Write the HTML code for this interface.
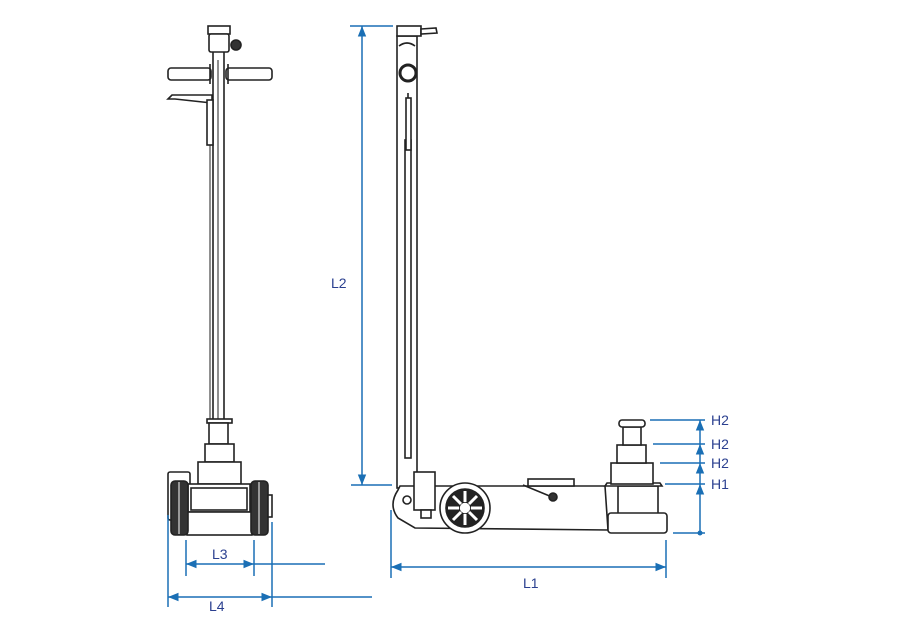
<!DOCTYPE html>
<html><head><meta charset="utf-8"><style>
html,body{margin:0;padding:0;background:#fff;width:900px;height:640px;overflow:hidden}
svg{display:block}
text{font-family:"Liberation Sans",sans-serif;font-size:14px;fill:#2a3f8f}
</style></head><body>
<svg width="900" height="640" viewBox="0 0 900 640" xmlns="http://www.w3.org/2000/svg">
<defs>
<marker id="a" viewBox="0 0 10 10" refX="10" refY="5" markerWidth="9" markerHeight="7" orient="auto-start-reverse"><path d="M0,1 L10,5 L0,9 z" fill="#1a6fb5"/></marker>
</defs>
<g fill="#fff" stroke="#222" stroke-width="1.6">
<!-- LEFT JACK -->
<rect x="213" y="50" width="11" height="372"/>
<line x1="218" y1="60" x2="218" y2="420" stroke-width="1"/>
<rect x="208" y="26" width="22" height="8"/>
<rect x="209" y="34" width="20" height="18" rx="2"/>
<circle cx="236" cy="45" r="5" fill="#333"/>
<rect x="168" y="68" width="43" height="12" rx="3"/>
<rect x="226" y="68" width="46" height="12" rx="3"/>
<line x1="210" y1="64" x2="210" y2="84"/><line x1="228" y1="64" x2="228" y2="84"/>
<path d="M168,99 L172,95 L212,95 L212,103 L175,99 Z"/>
<rect x="207" y="100" width="6" height="45"/>
<line x1="210" y1="145" x2="210" y2="420" stroke-width="1"/>
<rect x="207" y="419" width="25" height="4"/>
<rect x="209" y="423" width="19" height="21"/>
<rect x="205" y="444" width="29" height="18"/>
<rect x="198" y="462" width="43" height="22"/>
<rect x="168" y="472" width="22" height="48" rx="2"/>
<rect x="188" y="484" width="62" height="28"/>
<rect x="191" y="488" width="56" height="22"/>
<rect x="187" y="512" width="65" height="23"/>
<rect x="171" y="481" width="17" height="54" rx="4" fill="#333"/>
<rect x="251" y="481" width="17" height="54" rx="4" fill="#333"/>
<line x1="179" y1="482" x2="179" y2="534" stroke="#fff" stroke-width="1"/>
<line x1="259" y1="482" x2="259" y2="534" stroke="#fff" stroke-width="1"/>
<rect x="268" y="495" width="4" height="22"/>

<!-- RIGHT JACK -->
<rect x="397" y="36" width="20" height="452"/>
<rect x="405" y="140" width="6" height="318"/>
<rect x="397" y="26" width="24" height="10"/>
<path d="M421,29 L436,28 L437,33 L421,34 Z"/>
<path d="M399,46 Q407,40 415,46"/>
<circle cx="408" cy="73" r="8" stroke-width="3"/>
<rect x="406" y="98" width="5" height="52"/>
<line x1="408" y1="93" x2="408" y2="98"/>
<!-- arm -->
<path d="M400,486 L605,486 L608,530 L415,528 L398,518 Q388,505 398,490 Z"/>
<rect x="528" y="479" width="46" height="7"/>
<line x1="523" y1="485" x2="552" y2="497"/>
<circle cx="553" cy="497" r="4" fill="#333"/>
<circle cx="407" cy="500" r="4"/>
<rect x="414" y="472" width="21" height="38"/>
<rect x="421" y="510" width="10" height="8"/>
<circle cx="465" cy="508" r="25"/>
<circle cx="465" cy="508" r="19" fill="#222"/>
<circle cx="465" cy="508" r="6"/>
<g stroke="#fff" stroke-width="3">
<line x1="465" y1="502" x2="465" y2="491"/><line x1="465" y1="514" x2="465" y2="525"/>
<line x1="459" y1="508" x2="448" y2="508"/><line x1="471" y1="508" x2="482" y2="508"/>
<line x1="461" y1="504" x2="453" y2="496"/><line x1="469" y1="504" x2="477" y2="496"/>
<line x1="461" y1="512" x2="453" y2="520"/><line x1="469" y1="512" x2="477" y2="520"/>
</g>
<!-- lift -->
<rect x="618" y="486" width="40" height="28"/>
<path d="M605,486 L662,486 L660,483 L607,483 Z"/>
<rect x="608" y="513" width="59" height="20" rx="3"/>
<rect x="611" y="463" width="42" height="21"/>
<rect x="617" y="445" width="29" height="18"/>
<rect x="623" y="427" width="18" height="18"/>
<rect x="619" y="420" width="26" height="7" rx="3"/>
</g>

<!-- DIMENSIONS -->
<g stroke="#1a6fb5" stroke-width="1.5" fill="none">
<line x1="186" y1="540" x2="186" y2="576"/><line x1="254" y1="540" x2="254" y2="576"/>
<line x1="186" y1="564" x2="254" y2="564" marker-start="url(#a)" marker-end="url(#a)"/>
<line x1="254" y1="564" x2="325" y2="564"/>
<line x1="168" y1="515" x2="168" y2="607"/><line x1="272" y1="522" x2="272" y2="607"/>
<line x1="168" y1="597" x2="272" y2="597" marker-start="url(#a)" marker-end="url(#a)"/>
<line x1="272" y1="597" x2="372" y2="597"/>
<line x1="350" y1="26" x2="393" y2="26"/><line x1="351" y1="485" x2="392" y2="485"/>
<line x1="362" y1="26" x2="362" y2="485" marker-start="url(#a)" marker-end="url(#a)"/>
<line x1="391" y1="510" x2="391" y2="578"/><line x1="666" y1="540" x2="666" y2="578"/>
<line x1="391" y1="567" x2="666" y2="567" marker-start="url(#a)" marker-end="url(#a)"/>
<line x1="650" y1="420" x2="705" y2="420"/><line x1="653" y1="444" x2="705" y2="444"/>
<line x1="660" y1="463" x2="705" y2="463"/><line x1="665" y1="484" x2="705" y2="484"/>
<line x1="673" y1="533" x2="705" y2="533"/>
<line x1="700" y1="533" x2="700" y2="484" marker-end="url(#a)"/>
<line x1="700" y1="484" x2="700" y2="463" marker-end="url(#a)"/>
<line x1="700" y1="463" x2="700" y2="444" marker-end="url(#a)"/>
<line x1="700" y1="444" x2="700" y2="420" marker-end="url(#a)"/>
</g>
<circle cx="700" cy="533" r="2.5" fill="#1a6fb5"/>
<text x="212" y="559">L3</text>
<text x="209" y="611">L4</text>
<text x="331" y="288">L2</text>
<text x="523" y="588">L1</text>
<text x="711" y="425">H2</text>
<text x="711" y="449">H2</text>
<text x="711" y="468">H2</text>
<text x="711" y="489">H1</text>
</svg>
</body></html>
